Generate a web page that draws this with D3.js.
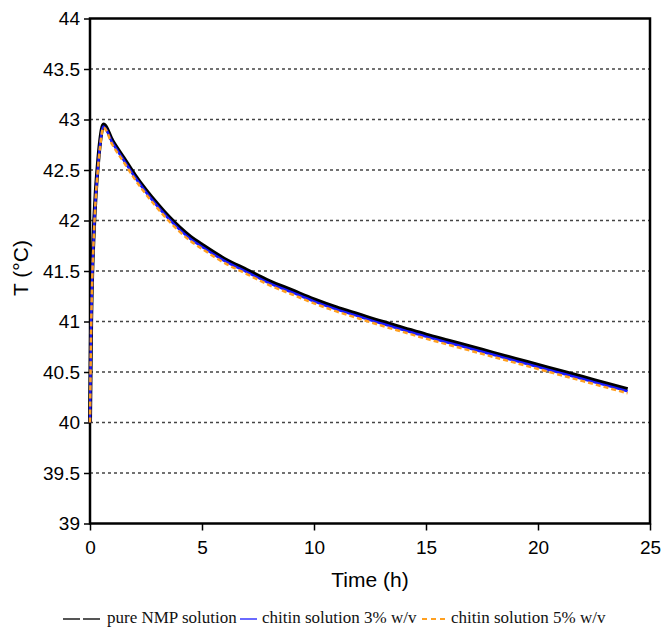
<!DOCTYPE html>
<html>
<head>
<meta charset="utf-8">
<script src="https://cdn.jsdelivr.net/npm/d3@7"></script>
<style>
  body { margin: 0; background: #fff; }
  svg { display: block; }
</style>
</head>
<body>
<svg class="tempChart"></svg>
<script>
// hours since start
const time = [0, 0.05, 0.1, 0.15, 0.25, 0.35, 0.45, 0.6, 1, 1.5, 2, 2.5, 3, 3.5, 4, 4.5, 5, 6, 7, 8, 9, 10,
  11, 12, 13, 14, 15, 16, 17, 18, 19, 20, 21, 22, 23, 24]

const pureNMP = [40, 41.0, 41.5, 41.8, 42.25, 42.55, 42.78, 42.95, 42.79, 42.62, 42.45, 42.30, 42.165, 42.04,
  41.93, 41.835, 41.76, 41.62, 41.51, 41.40, 41.31, 41.22, 41.14, 41.07, 41.0, 40.935, 40.87, 40.81, 40.75,
  40.69, 40.63, 40.57, 40.51, 40.45, 40.39, 40.33]

const chitin3 = [40, 40.95, 41.45, 41.76, 42.22, 42.52, 42.75, 42.93, 42.77, 42.60, 42.43, 42.28, 42.145, 42.02,
  41.91, 41.815, 41.74, 41.60, 41.49, 41.38, 41.29, 41.20, 41.12, 41.05, 40.98, 40.915, 40.85, 40.79, 40.73,
  40.67, 40.61, 40.55, 40.49, 40.43, 40.37, 40.31]

const chitin5 = [40, 40.92, 41.42, 41.74, 42.2, 42.5, 42.73, 42.92, 42.75, 42.58, 42.41, 42.26, 42.125, 42.0,
  41.89, 41.795, 41.72, 41.58, 41.47, 41.36, 41.27, 41.18, 41.10, 41.03, 40.96, 40.895, 40.83, 40.77, 40.71,
  40.65, 40.59, 40.53, 40.47, 40.41, 40.35, 40.29]

const xTicks = [0, 5, 10, 15, 20, 25]
const yTicks = [39, 39.5, 40, 40.5, 41, 41.5, 42, 42.5, 43, 43.5, 44]

const seriesNames = ['pure NMP solution', 'chitin solution 3% w/v', 'chitin solution 5% w/v']

const svg = d3.select('svg.tempChart').attr('width', 662).attr('height', 629)

const plot = { left: 90, right: 650, top: 18.5, bottom: 523.5 }

const x = d3.scaleLinear().domain([0, 25]).range([plot.left, plot.right])
const y = d3.scaleLinear().domain([39, 44]).range([plot.bottom, plot.top])

const sans = 'Liberation Sans, Arial, sans-serif'

// grid
svg.append('g')
  .selectAll('line')
  .data(yTicks.filter(v => v > 39 && v < 44))
  .enter()
  .append('line')
  .attr('x1', plot.left).attr('x2', plot.right)
  .attr('y1', d => y(d)).attr('y2', d => y(d))
  .attr('stroke', '#444')
  .attr('stroke-width', 1.5)
  .attr('stroke-dasharray', '3,3')

// y axis
const yAxis = svg.append('g')
  .attr('transform', `translate(${plot.left},0)`)
  .call(d3.axisLeft(y).tickValues(yTicks).tickSize(6).tickPadding(4).tickFormat(d => d))
yAxis.select('.domain').remove()
yAxis.selectAll('line').attr('stroke', '#000').attr('stroke-width', 1.5)
yAxis.selectAll('text').style('font-family', sans).style('font-size', '19px').attr('fill', '#000')

// x axis
const xAxis = svg.append('g')
  .attr('transform', `translate(0,${plot.bottom})`)
  .call(d3.axisBottom(x).tickValues(xTicks).tickSize(7).tickPadding(10))
xAxis.select('.domain').remove()
xAxis.selectAll('line').attr('stroke', '#000').attr('stroke-width', 1.5)
xAxis.selectAll('text').style('font-family', sans).style('font-size', '19px').attr('fill', '#000')

// frame
svg.append('rect')
  .attr('x', plot.left).attr('y', plot.top)
  .attr('width', plot.right - plot.left).attr('height', plot.bottom - plot.top)
  .attr('fill', 'none')
  .attr('stroke', '#000')
  .attr('stroke-width', 2.5)

// lines
const line = vals => d3.line()
  .x((d, i) => x(time[i]))
  .y(d => y(d))
  .curve(d3.curveMonotoneX)(vals)

svg.append('path').attr('d', line(pureNMP))
  .attr('fill', 'none').attr('stroke', '#000').attr('stroke-width', 4)
svg.append('path').attr('d', line(chitin3))
  .attr('fill', 'none').attr('stroke', '#1a1aff').attr('stroke-width', 2.5)
svg.append('path').attr('d', line(chitin5))
  .attr('fill', 'none').attr('stroke', '#ffa020').attr('stroke-width', 2.5)
  .attr('stroke-dasharray', '5,3')

// axis titles
svg.append('text')
  .attr('x', (plot.left + plot.right) / 2)
  .attr('y', 587)
  .attr('text-anchor', 'middle')
  .style('font-family', sans)
  .style('font-size', '21px')
  .text('Time (h)')

svg.append('text')
  .attr('transform', 'translate(28,268) rotate(-90)')
  .attr('text-anchor', 'middle')
  .style('font-family', sans)
  .style('font-size', '21px')
  .text('T (°C)')

// legend
const legend = svg.append('g').style('font-family', 'Liberation Serif, Times New Roman, serif').style('font-size', '17px')
const legendItems = [
  { x1: 63, x2: 100, tx: 107, stroke: '#555', dash: '17,3', w: 2 },
  { x1: 240, x2: 257, tx: 262, stroke: '#6a6aff', dash: null, w: 2 },
  { x1: 422, x2: 446, tx: 451, stroke: '#ffa020', dash: '5,4', w: 2 }
]
legendItems.forEach((it, i) => {
  legend.append('line')
    .attr('x1', it.x1).attr('x2', it.x2)
    .attr('y1', 619).attr('y2', 619)
    .attr('stroke', it.stroke).attr('stroke-width', it.w)
    .attr('stroke-dasharray', it.dash)
  legend.append('text')
    .attr('x', it.tx).attr('y', 623)
    .attr('fill', '#111')
    .text(seriesNames[i])
})
</script>
</body>
</html>
